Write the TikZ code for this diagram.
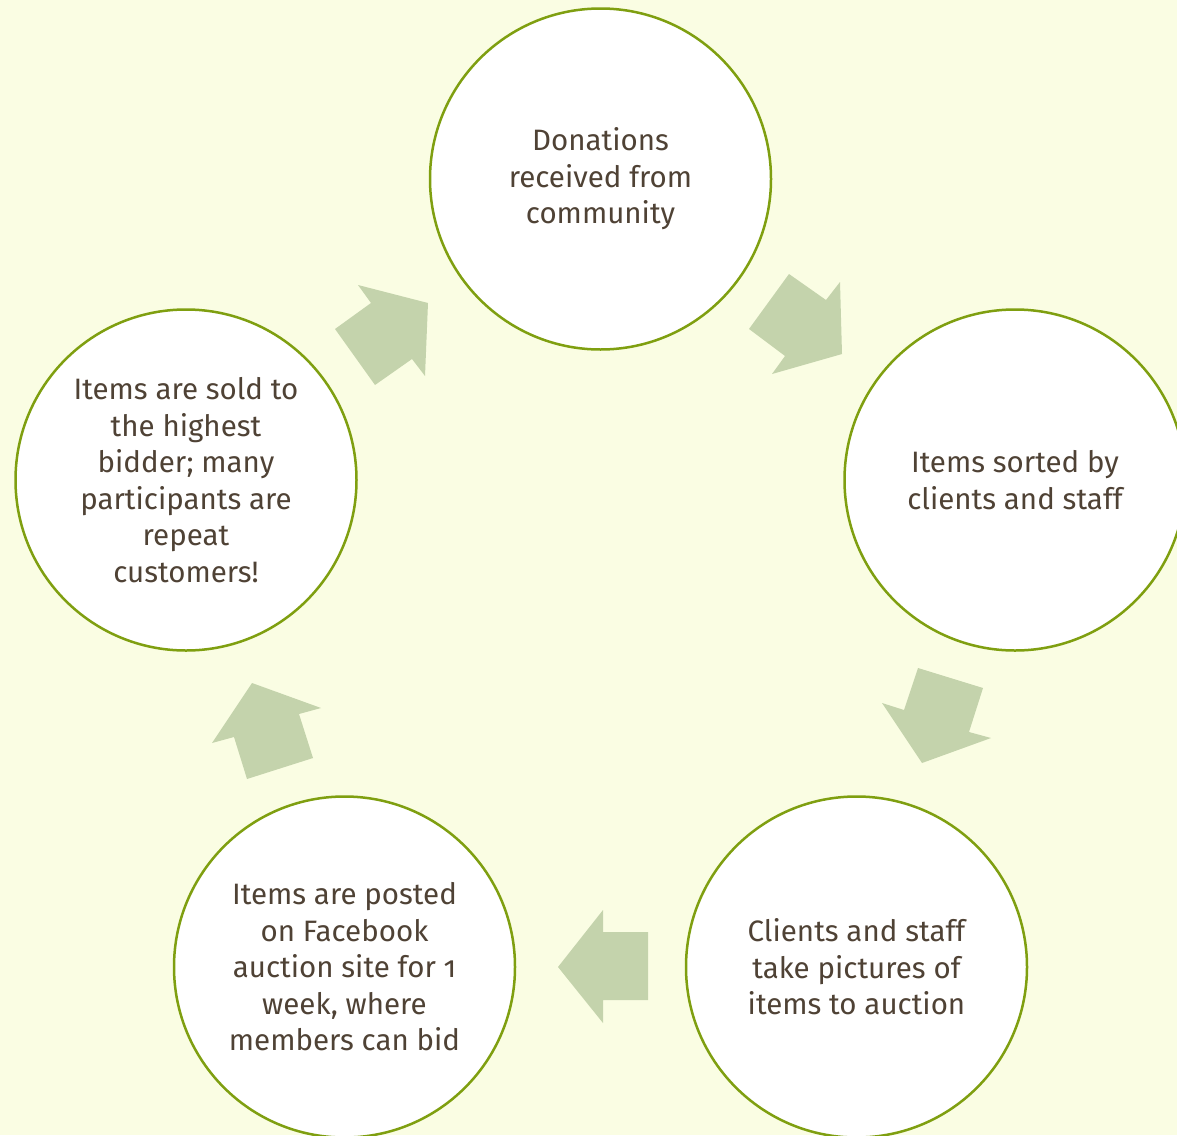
\documentclass[tikz,border=0pt]{standalone}
\usepackage{fontspec}
\setmainfont[Numbers=OldStyle]{Fira Sans}
\definecolor{bg}{HTML}{FAFDE3}
\definecolor{ring}{HTML}{7F9F10}
\definecolor{arrowfill}{HTML}{C4D3AC}
\definecolor{txt}{HTML}{4F4235}
\tikzset{
  stage/.style={circle, draw=ring, line width=2.5pt, fill=white, minimum size=341pt, inner sep=0pt,
    align=center, text=txt, font=\fontsize{29.5}{36.5}\selectfont},
  blockarrow/.style={fill=arrowfill, draw=none}
}
\begin{document}
\begin{tikzpicture}[x=1pt,y=-1pt]
\useasboundingbox (0,0) rectangle (1177,1135);
\clip (0,0) rectangle (1177,1135);
\fill[bg] (0,0) rectangle (1177,1135);

\node[stage] (donations) at (600.5,179) {Donations\\received from\\community};
\node[stage] (sorted) at (1015,480) {Items sorted by\\clients and staff};
\node[stage] (pictures) at (856.5,967) {Clients and staff\\take pictures of\\items to auction};
\node[stage] (posted) at (344.5,967) {Items are posted\\on Facebook\\auction site for 1\\week, where\\members can bid};
\node[stage] (sold) at (186,480) {Items are sold to\\the highest\\bidder; many\\participants are\\repeat\\customers!};

% arrow donations -> sorted
\fill[blockarrow] (789,274) -- (826,300) -- (840,282) -- (842,354) -- (772,374) -- (785,356) -- (749,329) -- cycle;
% arrow sorted -> pictures
\fill[blockarrow] (918,668) -- (983,688) -- (969,732) -- (991,738) -- (922,763) -- (882,703) -- (904,710) -- cycle;
% arrow pictures -> posted
\fill[blockarrow] (648,932) -- (648,1000) -- (603,1000) -- (603,1023) -- (558,967) -- (603,910) -- (603,932) -- cycle;
% arrow posted -> sold
\fill[blockarrow] (247,779) -- (234,737) -- (212,743) -- (252,683) -- (321,708) -- (299,714) -- (313,758) -- cycle;
% arrow sold -> donations
\fill[blockarrow] (335,329) -- (371,303) -- (358,285) -- (428,303) -- (425,376) -- (412,359) -- (375,385) -- cycle;
\end{tikzpicture}
\end{document}
